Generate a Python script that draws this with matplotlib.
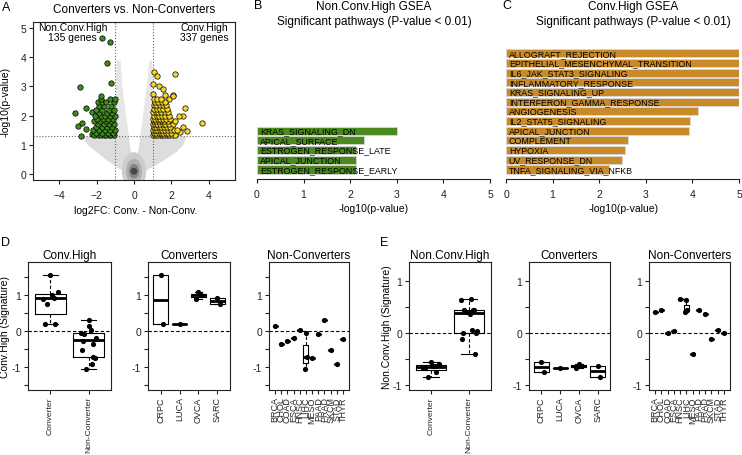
import matplotlib
matplotlib.use('Agg')
import numpy as np
import matplotlib.pyplot as plt
from matplotlib.patches import Ellipse

W, H = 742, 456

# ---- A: volcano ----
green_fc = [-1.72, -1.29, -1.43, -1.25, -2.88, -3.16, -2.86, -2.98, -2.77, -2.59, -2.56, -2.25, -2.24,
            -2.12, -1.93, -1.78, -1.62, -1.49, -1.36, -1.21, -1.06,
            -2.02, -1.70, -1.41, -1.13,
            -2.18, -1.87, -1.56, -1.28, -1.03,
            -2.06, -1.74, -1.47, -1.19,
            -1.95, -1.63, -1.33, -1.08,
            -2.15, -1.82, -1.52, -1.24,
            -1.98, -1.68, -1.39, -1.11,
            -2.09, -1.79, -1.57, -1.29, -1.04,
            -1.90, -1.45, -1.16,
            -2.02, -1.73, -1.36, -1.07,
            -1.86, -1.60, -1.22,
            -1.95, -1.74, -1.48, -1.10,
            -1.78, -1.30, -1.04,
            -1.76]
green_p = [4.65, 4.53, 3.81, 3.10, 2.98, 2.08, 1.29, 1.65, 1.74, 1.54, 2.25, 2.13, 1.36,
           1.33, 1.33, 1.33, 1.33, 1.33, 1.33, 1.33, 1.33,
           1.42, 1.42, 1.42, 1.42,
           1.50, 1.50, 1.50, 1.50, 1.50,
           1.62, 1.62, 1.62, 1.62,
           1.70, 1.70, 1.70, 1.70,
           1.80, 1.80, 1.80, 1.80,
           1.90, 1.90, 1.90, 1.90,
           2.00, 2.00, 2.00, 2.00, 2.00,
           2.10, 2.10, 2.10,
           2.20, 2.20, 2.20, 2.20,
           2.32, 2.32, 2.32,
           2.45, 2.45, 2.45, 2.45,
           2.57, 2.57, 2.57,
           2.66]

yellow_fc = [2.20, 1.09, 1.25, 1.03, 1.36, 1.57, 2.09, 2.73, 3.63, 2.86, 2.61, 2.41, 2.64, 2.47,
             1.00, 1.66, 1.90, 2.07,
             1.03, 1.14, 1.26, 1.38, 1.50, 1.62, 1.75, 1.90, 2.05, 2.22,
             1.08, 1.20, 1.33, 1.45, 1.57, 1.70, 1.84, 2.00,
             1.02, 1.13, 1.26, 1.39, 1.52, 1.66, 1.81, 1.97, 2.15, 2.33,
             1.07, 1.19, 1.32, 1.45, 1.60, 1.76, 1.93,
             1.02, 1.13, 1.26, 1.39, 1.53, 1.68, 1.86, 2.08,
             1.08, 1.20, 1.34, 1.48, 1.63, 1.80, 2.20,
             1.03, 1.15, 1.28, 1.42, 1.57, 1.74, 1.95,
             1.09, 1.22, 1.36, 1.52, 1.69, 1.87,
             1.04, 1.17, 1.31, 1.46, 1.64, 1.84,
             1.10, 1.25, 1.41, 1.58, 1.78,
             1.05, 1.20, 1.37, 1.55, 1.72,
             1.13, 1.30, 1.49, 1.68,
             1.06, 1.24, 1.43]
yellow_p = [3.42, 3.50, 3.37, 3.08, 3.02, 2.91, 2.72, 2.25, 1.74, 1.48, 2.00, 1.98, 1.60, 1.43,
            2.74, 2.70, 2.57, 2.68,
            1.33, 1.33, 1.33, 1.33, 1.33, 1.33, 1.33, 1.33, 1.33, 1.33,
            1.41, 1.41, 1.41, 1.41, 1.41, 1.41, 1.41, 1.41,
            1.50, 1.50, 1.50, 1.50, 1.50, 1.50, 1.50, 1.50, 1.50, 1.50,
            1.60, 1.60, 1.60, 1.60, 1.60, 1.60, 1.60,
            1.70, 1.70, 1.70, 1.70, 1.70, 1.70, 1.70, 1.70,
            1.80, 1.80, 1.80, 1.80, 1.80, 1.80, 1.80,
            1.90, 1.90, 1.90, 1.90, 1.90, 1.90, 1.90,
            2.00, 2.00, 2.00, 2.00, 2.00, 2.00,
            2.12, 2.12, 2.12, 2.12, 2.12, 2.12,
            2.24, 2.24, 2.24, 2.24, 2.24,
            2.36, 2.36, 2.36, 2.36, 2.36,
            2.48, 2.48, 2.48, 2.48,
            2.58, 2.58, 2.58]

# envelope of the non-significant (grey) genes, below and above the p cut-off
low_y = [0.0, 0.2, 0.5, 0.8, 1.0, 1.3]
low_left_outer = [-0.3, -0.8, -1.5, -2.1, -2.5, -2.8]
low_left_inner = [0.0, 0.0, -0.1, -0.2, -0.25, -0.3]
low_right_outer = [0.3, 0.8, 1.6, 2.3, 2.6, 2.8]
low_right_inner = [0.0, 0.0, 0.1, 0.2, 0.25, 0.3]
high_y = [1.3, 2.0, 3.0, 3.9]
high_left_outer = [-1.0, -1.0, -1.0, -0.95]
high_left_inner = [-0.3, -0.45, -0.65, -0.75]
high_right_outer = [1.0, 1.0, 1.0, 0.95]
high_right_inner = [0.3, 0.45, 0.65, 0.8]
core_width = [1.3, 0.85, 0.55, 0.37]
core_height = [1.3, 0.85, 0.5, 0.24]
core_grey = ['#cdcdcd', '#b0b0b0', '#858585', '#474747']

# ---- B / C: GSEA ----
nonconv_path = ['KRAS_SIGNALING_DN', 'APICAL_SURFACE', 'ESTROGEN_RESPONSE_LATE',
                'APICAL_JUNCTION', 'ESTROGEN_RESPONSE_EARLY']
nonconv_logp = [3.0, 2.3, 2.12, 2.12, 2.12]
conv_path = ['ALLOGRAFT_REJECTION', 'EPITHELIAL_MESENCHYMAL_TRANSITION', 'IL6_JAK_STAT3_SIGNALING',
             'INFLAMMATORY_RESPONSE', 'KRAS_SIGNALING_UP', 'INTERFERON_GAMMA_RESPONSE',
             'ANGIOGENESIS', 'IL2_STAT5_SIGNALING', 'APICAL_JUNCTION', 'COMPLEMENT',
             'HYPOXIA', 'UV_RESPONSE_DN', 'TNFA_SIGNALING_VIA_NFKB']
conv_logp = [5, 5, 5, 5, 5, 5, 4.12, 3.95, 3.93, 2.62, 2.55, 2.48, 2.22]

# ---- D / E: signatures ----
conv_types = ['CRPC', 'LUCA', 'OVCA', 'SARC']
nonconv_types = ['BRCA', 'CHOL', 'COAD', 'ESCA', 'HNSC', 'LIHC',
                 'MESO', 'PAAD', 'PRAD', 'SKCM', 'STAD', 'THYR']
d_conv = [[1.55, 0.2], [0.2], [1.08, 1.0, 0.88], [0.93, 0.75]]
d_nonconv = [[0.15], [-0.35], [-0.28], [-0.18], [0.02], [-0.05, -0.72, -1.05],
             [-0.75], [-0.08], [0.3], [-0.52], [-0.93], [-0.22]]
e_conv = [[-0.56, -0.75], [-0.67], [-0.6, -0.63, -0.68], [-0.63, -0.85]]
e_nonconv = [[0.4], [0.45], [0.0], [0.03], [0.65], [0.63, 0.45, 0.4],
             [-0.4], [0.45], [0.37], [-0.12], [0.05], [0.0]]

GREEN_PT = '#3f8a1c'
YELLOW_PT = '#f6d42a'
GREEN_BAR = '#4a8a1e'
GOLD_BAR = '#c98b2a'
JITTER = [0.0, 0.12, -0.15, 0.2, 0.05, -0.2, 0.1, -0.08, 0.16, -0.12, 0.02, -0.18, 0.08, 0.18]

plt.rcParams['font.family'] = ['Liberation Sans', 'DejaVu Sans']
plt.rcParams['axes.linewidth'] = 0.8
plt.rcParams['axes.edgecolor'] = '#222222'
for a in ('xtick', 'ytick'):
    plt.rcParams[a + '.major.size'] = 3
    plt.rcParams[a + '.major.width'] = 0.8
    plt.rcParams[a + '.labelsize'] = 7.5
    plt.rcParams[a + '.major.pad'] = 2
    plt.rcParams[a + '.color'] = '#222222'

fig = plt.figure(figsize=(W / 100, H / 100), dpi=100)


def add_ax(left, top, right, bottom):
    return fig.add_axes([left / W, 1 - bottom / H, (right - left) / W, (bottom - top) / H])


def fig_text(x, y, s, **kw):
    kw.setdefault('ha', 'center')
    kw.setdefault('va', 'center')
    fig.text(x / W, 1 - y / H, s, **kw)


# A
ax = add_ax(33, 23, 235, 181)
ax.fill_betweenx(low_y, low_left_outer, low_left_inner, color='#dddddd', lw=0, zorder=1)
ax.fill_betweenx(low_y, low_right_inner, low_right_outer, color='#dddddd', lw=0, zorder=1)
ax.fill_betweenx(high_y, high_left_outer, high_left_inner, color='#e6e6e6', lw=0, zorder=1)
ax.fill_betweenx(high_y, high_right_inner, high_right_outer, color='#e6e6e6', lw=0, zorder=1)
for w, h, c in zip(core_width, core_height, core_grey):
    ax.add_patch(Ellipse((0, 0.1), w, h, color=c, lw=0, zorder=1.5))
ax.axvline(-1, color='#666666', ls=':', lw=0.8, zorder=2)
ax.axvline(1, color='#666666', ls=':', lw=0.8, zorder=2)
ax.axhline(1.3, color='#666666', ls=':', lw=0.8, zorder=2)
ax.scatter(green_fc, green_p, s=15, c=GREEN_PT, edgecolors='black', linewidths=0.5, zorder=3)
ax.scatter(yellow_fc, yellow_p, s=15, c=YELLOW_PT, edgecolors='black', linewidths=0.5, zorder=3)
ax.set_xlim(-5.42, 5.42)
ax.set_ylim(-0.2, 5.2)
ax.set_xticks([-4, -2, 0, 2, 4])
ax.set_yticks([0, 1, 2, 3, 4, 5])
ax.tick_params(axis='x', pad=4)
ax.text(-3.3, 4.85, 'Non.Conv.High\n135 genes', ha='center', va='center', fontsize=7.5, linespacing=0.95)
ax.text(3.8, 4.85, 'Conv.High\n337 genes', ha='center', va='center', fontsize=7.5, linespacing=0.95)
fig_text(134, 10, 'Converters vs. Non-Converters', fontsize=8.5)
fig_text(136, 211, 'log2FC: Conv. - Non-Conv.', fontsize=7.5)
fig_text(6, 102, '-log10(p-value)', fontsize=7.5, rotation=90)
fig_text(6, 8, 'A', fontsize=9)


# B, C
def gsea_panel(left, right, paths, vals, color):
    ax = add_ax(left, 45, right, 180)
    n = len(paths)
    ys = [n - 1 - i for i in range(n)]
    ax.barh(ys, vals, height=0.83, color=color, edgecolor='#d8d8d8', lw=0.6)
    for y, p in zip(ys, paths):
        ax.text(0.06, y, p, va='center', ha='left', fontsize=6.4)
    ax.set_xlim(0, 5)
    ax.set_ylim(-0.98, 12.95)
    for s in ('left', 'top', 'right'):
        ax.spines[s].set_visible(False)
    ax.set_yticks([])
    ax.set_xticks(range(6))
    ax.tick_params(axis='x', pad=4)
    ax.patch.set_alpha(0)
    return ax


gsea_panel(257, 490, nonconv_path, nonconv_logp, GREEN_BAR)
gsea_panel(506, 739, conv_path, conv_logp, GOLD_BAR)
fig_text(374, 7, 'Non.Conv.High GSEA', fontsize=8.5)
fig_text(374, 22, 'Significant pathways (P-value < 0.01)', fontsize=8.5)
fig_text(374, 209, '-log10(p-value)', fontsize=7.5)
fig_text(633, 7, 'Conv.High GSEA', fontsize=8.5)
fig_text(633, 22, 'Significant pathways (P-value < 0.01)', fontsize=8.5)
fig_text(624, 209, '-log10(p-value)', fontsize=7.5)
fig_text(258, 6, 'B', fontsize=9)
fig_text(507, 6, 'C', fontsize=9)


# D, E
def fivenum(v):
    x = np.sort(np.asarray(v, dtype=float))
    n = len(x)
    n4 = np.floor((n + 3) / 2) / 2
    d = np.array([1, n4, (n + 1) / 2, n + 1 - n4, n]) - 1
    return 0.5 * (x[np.floor(d).astype(int)] + x[np.ceil(d).astype(int)])


def r_stats(v):
    lo, q1, med, q3, hi = fivenum(v)
    iqr = q3 - q1
    v = np.asarray(v)
    inside = v[(v >= q1 - 1.5 * iqr) & (v <= q3 + 1.5 * iqr)]
    return dict(med=med, q1=q1, q3=q3, whislo=inside.min(), whishi=inside.max(), fliers=[])


def box_panel(left, right, groups, labels, ylim, yticks, title, label_size=6.5):
    ax = add_ax(left, 263, right, 391)
    n = len(groups)
    ax.axhline(0, color='black', ls=(0, (3, 2)), lw=0.8, zorder=1)
    ax.bxp([r_stats(g) for g in groups], positions=range(1, n + 1), widths=0.8,
           capwidths=0.4, showfliers=False,
           boxprops=dict(color='black', lw=0.8),
           whiskerprops=dict(color='black', lw=0.8, ls=(0, (3, 2))),
           capprops=dict(color='black', lw=0.8),
           medianprops=dict(color='black', lw=2))
    for i, g in enumerate(groups):
        xs = [i + 1 + JITTER[j % len(JITTER)] for j in range(len(g))]
        ax.scatter(xs, g, s=14, c='black', lw=0, zorder=4)
    pad = 0.04 * n
    ax.set_xlim(0.5 - pad, n + 0.5 + pad)
    ax.set_ylim(*ylim)
    ax.set_xticks(range(1, n + 1))
    ax.set_xticklabels(labels, rotation=90, fontsize=label_size)
    ax.tick_params(axis='x', pad=1.5)
    ax.set_yticks(yticks)
    ax.set_yticklabels(['%g' % t if float(t).is_integer() else '' for t in yticks])
    ax.set_title(title, fontsize=8.5, pad=3)
    return ax


d_lim = (-1.64, 1.92)
d_ticks = [-1.5, -1, -0.5, 0, 0.5, 1, 1.5]
e_lim = (-1.1, 1.37)
e_ticks = [-1, -0.5, 0, 0.5, 1]

d_conv_all = [v for g in d_conv for v in g]
d_nonconv_all = [v for g in d_nonconv for v in g]
e_conv_all = [v for g in e_conv for v in g]
e_nonconv_all = [v for g in e_nonconv for v in g]

box_panel(28, 111, [d_conv_all, d_nonconv_all], ['Converter', 'Non-Converter'], d_lim, d_ticks,
          'Conv.High', label_size=6.1)
box_panel(148, 230, d_conv, conv_types, d_lim, d_ticks, 'Converters')
box_panel(269, 349, d_nonconv, nonconv_types, d_lim, d_ticks, 'Non-Converters')
box_panel(409, 491, [e_conv_all, e_nonconv_all], ['Converter', 'Non-Converter'], e_lim, e_ticks,
          'Non.Conv.High', label_size=6.1)
box_panel(529, 610, e_conv, conv_types, e_lim, e_ticks, 'Converters')
box_panel(649, 730, e_nonconv, nonconv_types, e_lim, e_ticks, 'Non-Converters')

fig_text(5, 327, 'Conv.High (Signature)', fontsize=7.5, rotation=90)
fig_text(387, 327, 'Non.Conv.High (Signature)', fontsize=7.5, rotation=90)
fig_text(6, 243, 'D', fontsize=9)
fig_text(384, 243, 'E', fontsize=9)

fig.savefig('out.png', dpi=100)
